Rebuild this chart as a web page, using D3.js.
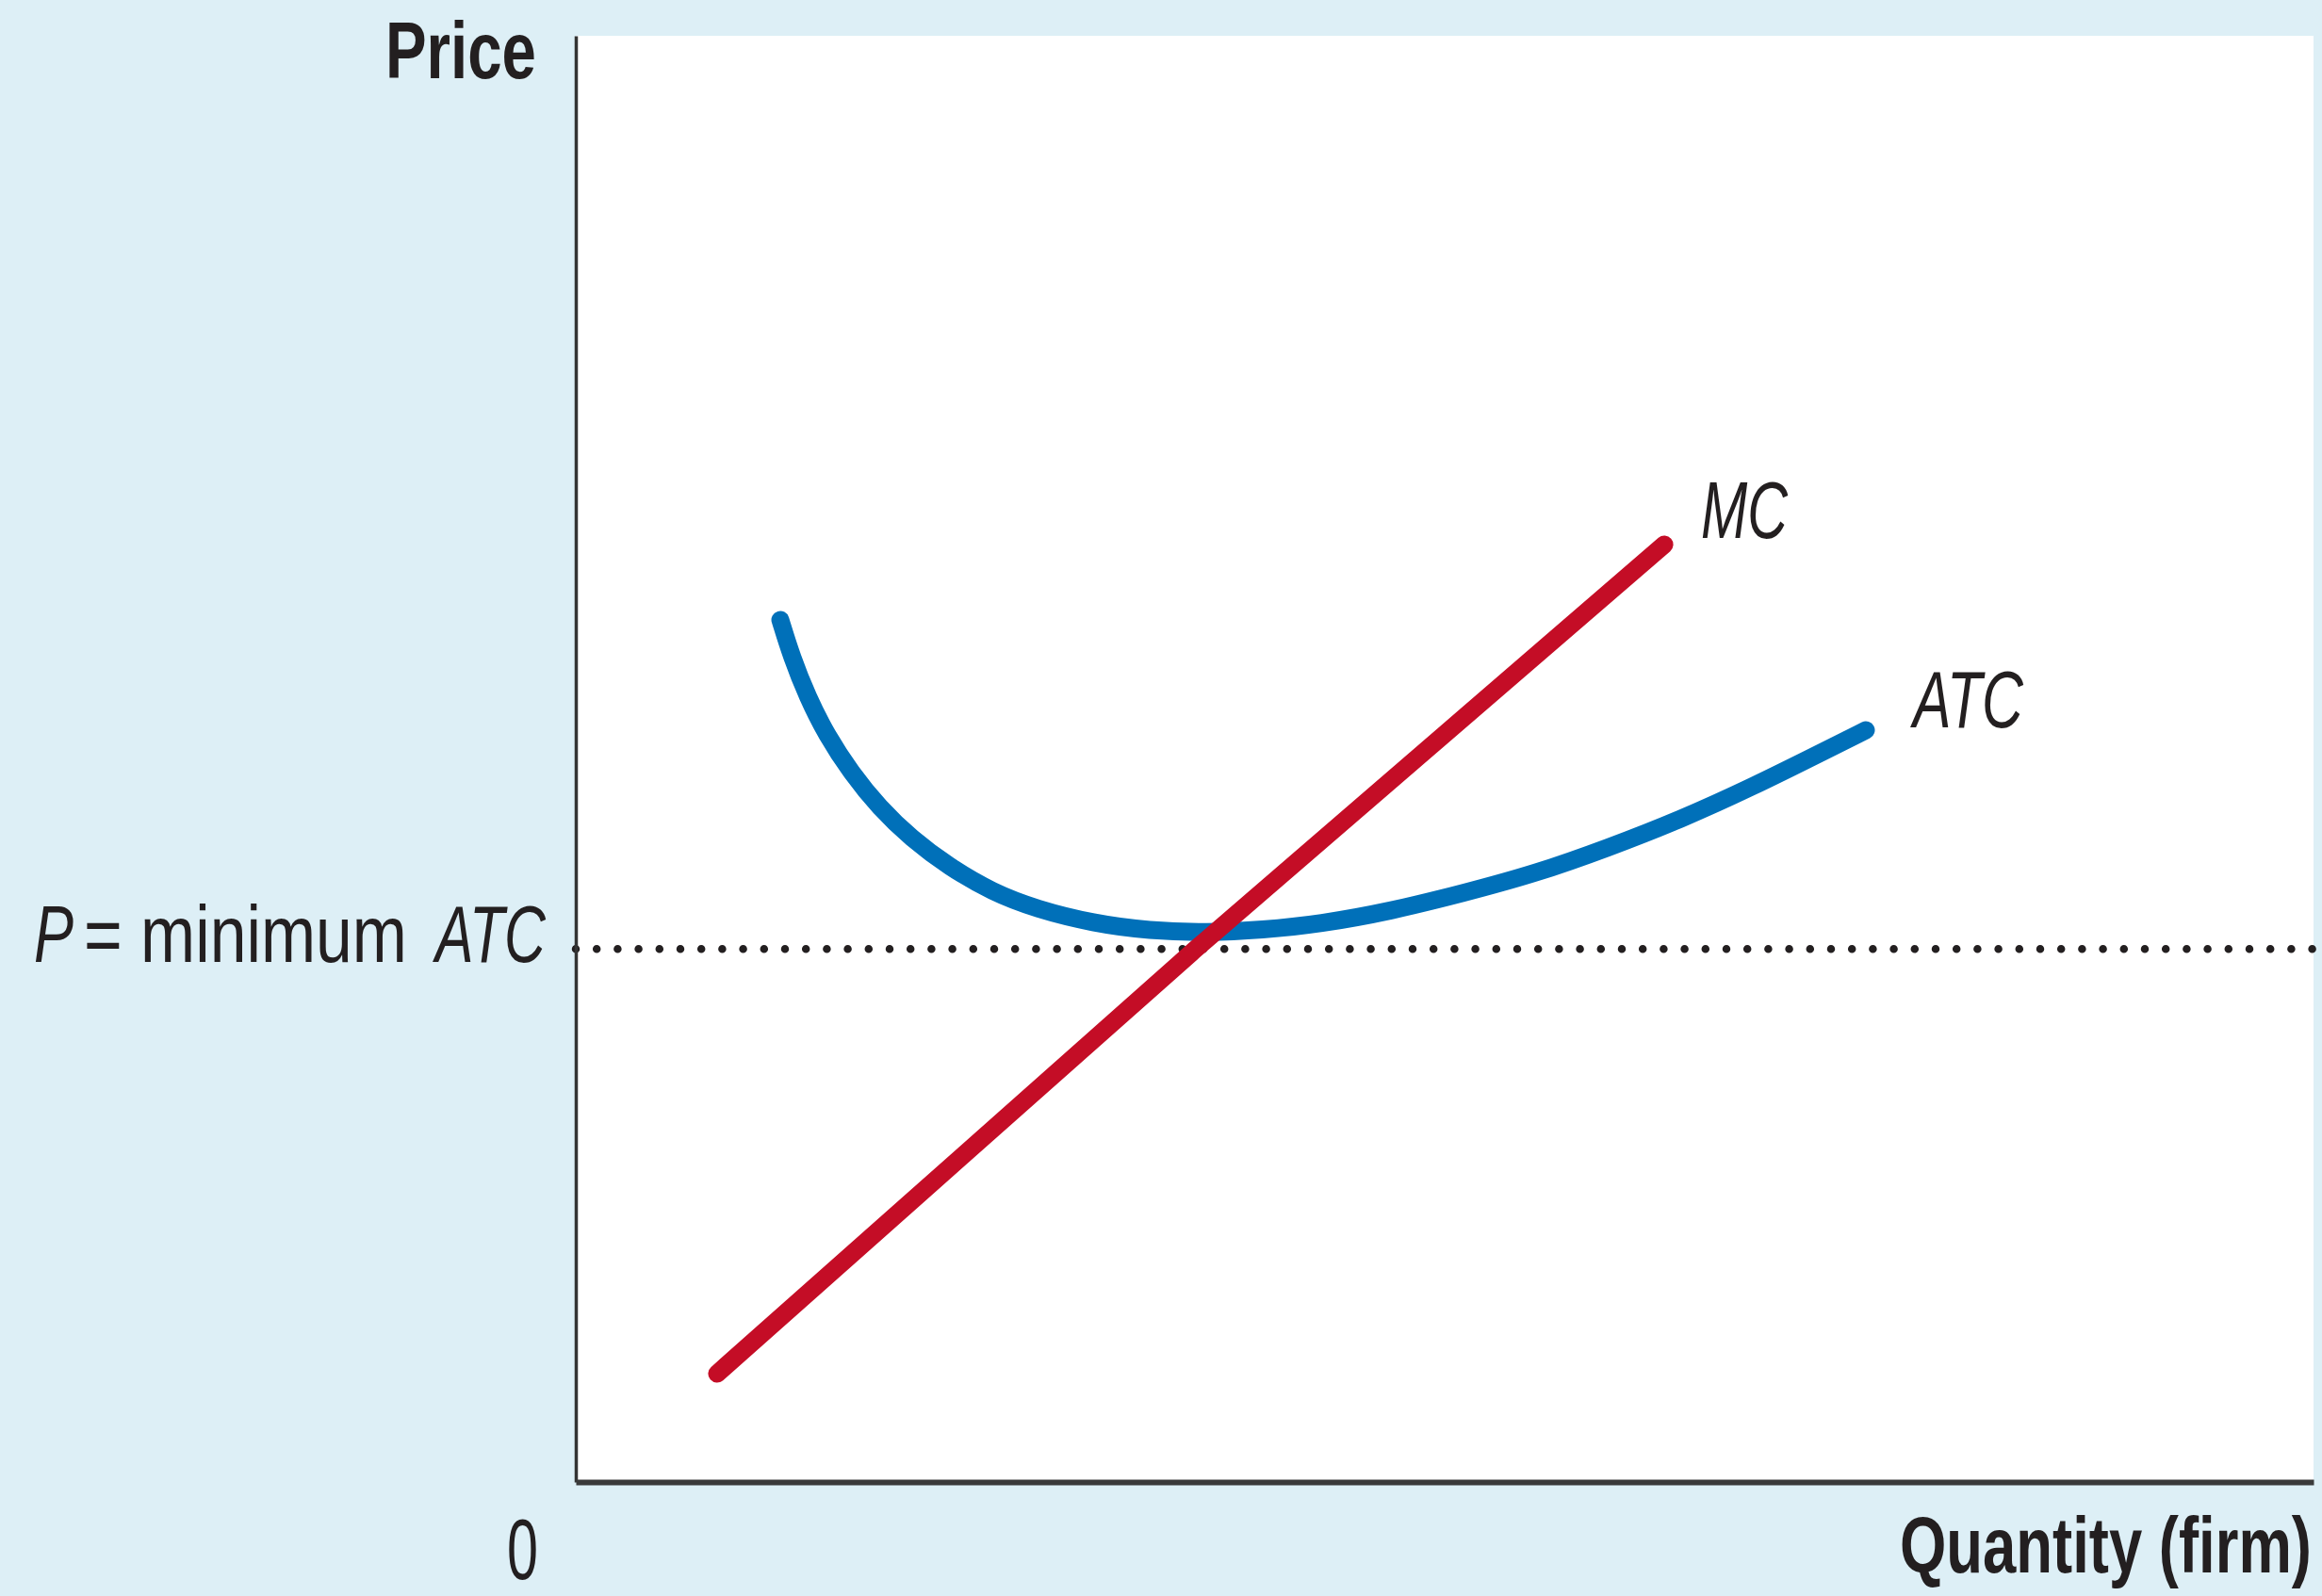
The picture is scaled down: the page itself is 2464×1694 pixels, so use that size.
<!DOCTYPE html>
<html>
<head>
<meta charset="utf-8">
<script src="https://cdn.jsdelivr.net/npm/d3@7"></script>
<style>
  html, body { margin: 0; padding: 0; background: #DDEFF6; }
  svg { display: block; }
  text { font-family: "Liberation Sans Narrow", "Liberation Sans", Arial, sans-serif; fill: #231F20; }
</style>
</head>
<body>
<svg id="chart" width="2464" height="1694"></svg>
<script>
// ---- data (quantity 0-100, price 0-100) ----
const atcQuantity = [11.77, 12.42, 13.34, 14.43, 15.84, 17.46, 19.31, 21.48, 23.97, 26.52, 29.77, 33.03, 36.28, 39.53, 42.79, 46.96, 51.08, 55.26, 59.38, 63.56, 67.73, 71.85, 74.24];
const atcPrice    = [59.61, 57.07, 54.27, 51.66, 49.06, 46.64, 44.50, 42.54, 40.78, 39.61, 38.63, 38.11, 37.98, 38.18, 38.57, 39.48, 40.72, 42.08, 43.84, 45.80, 48.08, 50.55, 51.99];
const mcQuantity = [8.13, 35.63, 62.64];
const mcPrice    = [7.49, 36.81, 64.82];
const minATCPrice = 36.85;
const axisTitles = ["Price", "Quantity (firm)"];
const originLabel = "0";
const priceLevelLabel = ["P", "= minimum", "ATC"];
const seriesLabels = ["MC", "ATC"];

(function () {
// ---- layout ----
const W = 2464, H = 1694;
const pLeft = 611, pRight = 2455, pTop = 38, pBottom = 1573;

const svg = d3.select("#chart");
const x = d3.scaleLinear().domain([0, 100]).range([pLeft, pRight]);
const y = d3.scaleLinear().domain([0, 100]).range([pBottom, pTop]);

// background & plot area
svg.append("rect").attr("x", 0).attr("y", 0).attr("width", W).attr("height", H).attr("fill", "#DDEFF6");
svg.append("rect").attr("x", pLeft).attr("y", pTop).attr("width", pRight - pLeft).attr("height", pBottom - pTop).attr("fill", "#ffffff");

// dotted P = min ATC line
svg.append("line")
  .attr("x1", x(0)).attr("x2", W)
  .attr("y1", y(minATCPrice)).attr("y2", y(minATCPrice))
  .attr("stroke", "#231F20").attr("stroke-width", 8.5)
  .attr("stroke-linecap", "round").attr("stroke-dasharray", "0,22.2");

// axes
const yAxis = svg.append("g").attr("transform", `translate(${pLeft},0)`)
  .call(d3.axisLeft(y).tickValues([]).tickSizeOuter(0));
yAxis.select(".domain").attr("stroke", "#333").attr("stroke-width", 3.5);
const xAxis = svg.append("g").attr("transform", `translate(0,${pBottom})`)
  .call(d3.axisBottom(x).tickValues([]).tickSizeOuter(0));
xAxis.select(".domain").attr("stroke", "#3a3a3a").attr("stroke-width", 6);

// ATC curve
const atcData = atcQuantity.map((q, i) => ({ q, p: atcPrice[i] }));
const line = d3.line().x(d => x(d.q)).y(d => y(d.p)).curve(d3.curveBasis);
svg.append("path").datum(atcData).attr("d", line)
  .attr("fill", "none").attr("stroke", "#0070B9").attr("stroke-width", 19)
  .attr("stroke-linecap", "round").attr("stroke-linejoin", "round");

// MC line
const mcData = mcQuantity.map((q, i) => ({ q, p: mcPrice[i] }));
svg.append("path").datum(mcData).attr("d", d3.line().x(d => x(d.q)).y(d => y(d.p)))
  .attr("fill", "none").attr("stroke", "#C40D26").attr("stroke-width", 19)
  .attr("stroke-linecap", "round").attr("stroke-linejoin", "round");

// text helper: scales the text horizontally so that it spans `len` pixels
function txt(s, xp, yp, size, weight, len, style) {
  const t = svg.append("text").attr("x", 0).attr("y", 0)
    .attr("font-size", size).attr("font-weight", weight)
    .attr("font-style", style || "normal")
    .text(s);
  const w = t.node().getComputedTextLength() || len;
  t.attr("transform", `translate(${xp},${yp}) scale(${len / w},1)`);
  return t;
}

txt(axisTitles[0], 409, 83, 86, "bold", 160);
txt(axisTitles[1], 2016, 1669, 84, "bold", 437);
txt(originLabel, 538, 1676, 90, "normal", 33);

// P = minimum ATC
txt(priceLevelLabel[0], 36, 1021, 86, "normal", 42, "italic");
txt(priceLevelLabel[1], 89, 1021, 86, "normal", 343);
txt(priceLevelLabel[2], 462, 1021, 86, "normal", 117, "italic");

// series labels
txt(seriesLabels[0], 1805, 571, 85, "normal", 92, "italic");
txt(seriesLabels[1], 2030, 772, 85, "normal", 117, "italic");
})();
</script>
</body>
</html>
